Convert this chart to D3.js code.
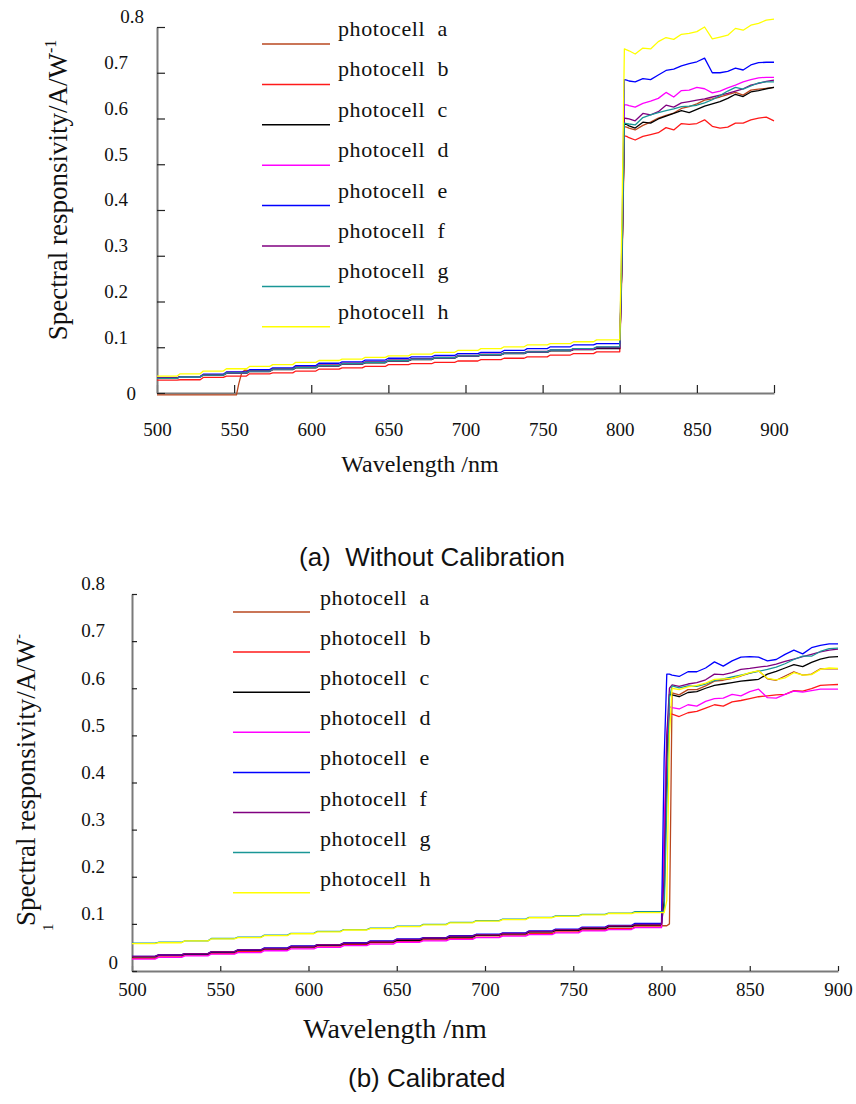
<!DOCTYPE html>
<html><head><meta charset="utf-8">
<script src="https://cdn.jsdelivr.net/npm/d3@7"></script>
<style>body{margin:0;background:#fff}svg{display:block}</style>
</head><body>
<svg id="c" width="856" height="1104"></svg>
<script>
// ---------------- data ----------------
const seriesKeys = ["a","b","c","d","e","f","g","h"];
const seriesColors = ["#b9471f","#ff1a1a","#000000","#ff00ff","#0000ff","#800080","#1a9696","#ffff00"];
const xTicks = [500,550,600,650,700,750,800,850,900];
const yTicks = [0,0.1,0.2,0.3,0.4,0.5,0.6,0.7,0.8];
const yTickLabels = ["0","0.1","0.2","0.3","0.4","0.5","0.6","0.7","0.8"];
const preWl = [500,515,530,545,560,575,590,605,620,635,650,665,680,695,710,725,740,755,770,785];
const postWl = [800,801.5,803,804.5,806,810,815,820,825,830,835,840,845,850,855,860,865,870,875,880,885,890,895,900];

// (a) without calibration
const topOnset_a = [[500,-0.004],[551.5,-0.004],[553,0.02],[555,0.045],[557,0.05]];
const topPre_a = [null,null,null,null,.049,.052,.056,.061,.064,.067,.071,.074,.077,.081,.084,.087,.090,.093,.096,.098];
const topPre_b = [.028,.029,.034,.037,.042,.044,.048,.052,.055,.058,.062,.064,.067,.070,.073,.076,.079,.083,.086,.090];
const topPre_c = [.033,.035,.039,.043,.047,.051,.055,.059,.063,.066,.070,.073,.076,.080,.083,.086,.089,.092,.095,.097];
const topPre_d = [.032,.035,.040,.044,.048,.052,.056,.060,.064,.067,.071,.074,.077,.081,.084,.087,.090,.093,.096,.099];
const topPre_e = [.033,.036,.041,.046,.051,.055,.060,.065,.068,.072,.076,.079,.082,.086,.089,.093,.097,.101,.105,.108];
const topPre_f = [.033,.036,.040,.045,.049,.053,.057,.061,.065,.068,.072,.075,.078,.082,.085,.088,.091,.094,.097,.100];
const topPre_g = [.032,.035,.039,.044,.048,.052,.056,.060,.064,.067,.071,.074,.077,.081,.084,.087,.090,.094,.097,.101];
const topPre_h = [.037,.042,.048,.053,.058,.062,.067,.071,.074,.078,.081,.085,.089,.093,.097,.101,.105,.108,.112,.116];

const topPost_a = [.098,.30,.582,.581,.579,.575,.585,.592,.601,.607,.612,.622,.626,.632,.640,.643,.647,.652,.657,.651,.662,.664,.666,.668];
const topPost_b = [.090,.28,.562,.561,.558,.553,.561,.565,.569,.580,.575,.589,.587,.589,.597,.583,.579,.581,.590,.590,.597,.601,.603,.595];
const topPost_c = [.097,.30,.588,.587,.584,.579,.592,.590,.599,.605,.611,.617,.613,.620,.627,.632,.637,.644,.653,.648,.658,.661,.665,.668];
const topPost_d = [.099,.32,.630,.630,.628,.625,.633,.638,.644,.657,.647,.661,.662,.668,.665,.656,.660,.667,.673,.680,.685,.689,.690,.690];
const topPost_e = [.108,.35,.685,.684,.682,.680,.687,.685,.695,.705,.708,.715,.720,.724,.732,.700,.700,.703,.710,.706,.717,.722,.723,.723];
const topPost_f = [.100,.30,.601,.600,.599,.595,.611,.608,.615,.629,.625,.634,.637,.640,.643,.647,.651,.655,.660,.665,.673,.677,.681,.684];
const topPost_g = [.101,.30,.590,.589,.588,.586,.602,.608,.613,.617,.621,.626,.627,.629,.634,.641,.650,.660,.668,.664,.671,.678,.680,.680];
const topPost_h = [.116,.40,.752,.750,.748,.741,.754,.752,.768,.777,.773,.784,.786,.790,.800,.774,.778,.782,.797,.793,.804,.808,.815,.817];

// (b) calibrated
const botPre_a = [.030,.034,.037,.040,.044,.048,.052,.055,.059,.062,.066,.069,.073,.076,.079,.083,.087,.090,.094,.096];
const botPre_b = [.027,.030,.034,.037,.041,.045,.049,.053,.056,.060,.063,.066,.069,.072,.076,.079,.083,.087,.090,.093];
const botPre_c = [.030,.033,.036,.040,.044,.047,.051,.055,.058,.062,.065,.069,.072,.076,.079,.083,.086,.090,.094,.098];
const botPre_d = [.025,.029,.032,.036,.039,.043,.047,.050,.054,.057,.061,.064,.067,.071,.074,.077,.081,.085,.088,.092];
const botPre_e = [.031,.034,.037,.041,.045,.049,.053,.056,.060,.064,.068,.071,.075,.078,.081,.085,.089,.093,.097,.101];
const botPre_f = [.031,.034,.037,.041,.045,.048,.052,.056,.059,.063,.067,.070,.074,.077,.080,.084,.088,.092,.096,.099];
const botPre_g = [.059,.061,.064,.069,.072,.076,.080,.084,.088,.091,.095,.099,.103,.107,.110,.114,.117,.120,.123,.126];
const botPre_h = [.058,.060,.064,.068,.071,.075,.079,.083,.087,.090,.094,.098,.102,.106,.109,.113,.116,.119,.122,.124];

const botPost_a = [.096,.096,.096,.100,.590,.586,.597,.597,.605,.615,.617,.621,.626,.632,.637,.620,.617,.626,.635,.628,.630,.641,.641,.641];
const botPost_b = [.093,.25,.46,.546,.545,.540,.548,.551,.558,.565,.562,.571,.574,.578,.582,.584,.586,.587,.595,.594,.599,.606,.607,.608];
const botPost_c = [.098,.15,.45,.587,.586,.582,.591,.593,.600,.606,.609,.612,.615,.617,.619,.630,.636,.643,.650,.646,.655,.662,.666,.667];
const botPost_d = [.092,.30,.50,.561,.559,.556,.565,.562,.572,.578,.579,.587,.584,.593,.598,.580,.579,.587,.594,.592,.595,.598,.598,.598];
const botPost_e = [.101,.45,.63,.630,.628,.625,.635,.635,.643,.656,.647,.658,.666,.667,.666,.658,.661,.672,.681,.673,.686,.691,.694,.694];
const botPost_f = [.099,.20,.50,.600,.607,.604,.609,.612,.618,.630,.629,.633,.640,.642,.645,.647,.651,.657,.662,.667,.672,.677,.681,.683];
const botPost_g = [.126,.126,.35,.580,.605,.601,.605,.604,.609,.616,.620,.624,.628,.632,.636,.640,.645,.652,.661,.668,.668,.678,.684,.685];
const botPost_h = [.124,.124,.15,.500,.600,.597,.603,.606,.611,.619,.620,.621,.627,.633,.637,.621,.618,.622,.633,.628,.629,.640,.643,.642];

// ---------------- drawing ----------------
const svg = d3.select("#c");
const SERIF = "'Liberation Serif','Times New Roman',serif";
const SANS = "'Liberation Sans',Arial,sans-serif";

function buildPoints(pre, post, onset){
  const pts = [];
  if (onset) onset.forEach(p => pts.push(p));
  pre.forEach((v,i) => {
    if (v === null) return;
    const next = i < preWl.length-1 ? preWl[i+1] : postWl[0];
    pts.push([preWl[i], v]);
    pts.push([next - 2, v]);
  });
  post.forEach((v,i) => pts.push([postWl[i], v]));
  return pts;
}

function drawChart(cfg){
  const g = svg.append("g");
  const x = d3.scaleLinear().domain([500,900]).range([cfg.x0, cfg.x1]);
  const y = d3.scaleLinear().domain([0,0.8]).range([cfg.y0, cfg.y1]);

  const xa = g.append("g").attr("transform",`translate(0,${cfg.y0})`)
    .call(d3.axisBottom(x).tickValues(xTicks).tickSizeInner(-cfg.tick).tickSizeOuter(0).tickPadding(cfg.xPad).tickFormat(d3.format("d")));
  const ya = g.append("g").attr("transform",`translate(${cfg.x0},0)`)
    .call(d3.axisLeft(y).tickValues(yTicks).tickSizeInner(-cfg.tick).tickSizeOuter(0).tickPadding(cfg.yPad).tickFormat((d,i)=>yTickLabels[i]));
  [xa,ya].forEach(a=>{
    a.select(".domain").attr("stroke","#7a7a7a").attr("stroke-width",2);
    a.selectAll(".tick line").attr("stroke","#222").attr("stroke-width",1.2);
    a.selectAll("text").attr("font-family",SERIF).attr("font-size",19).attr("fill","#111");
  });
  ya.selectAll("text").attr("dy","-0.22em");
  ya.selectAll(".tick").filter(d=>d===0).select("text").attr("x",cfg.zeroX).attr("dy",cfg.zeroDy);
  if (cfg.topX !== undefined) ya.selectAll(".tick").filter(d=>d===0.8).select("text").attr("x",cfg.topX);

  const line = d3.line().x(d=>x(d[0])).y(d=>y(d[1]));
  seriesKeys.forEach((k,i)=>{
    const pts = buildPoints(cfg.pre[i], cfg.post[i], cfg.onset ? cfg.onset[i] : null);
    g.append("path").attr("d",line(pts)).attr("fill","none")
      .attr("stroke",seriesColors[i]).attr("stroke-width",1.3).attr("stroke-linejoin","round");
  });

  seriesKeys.forEach((k,i)=>{
    const ly = cfg.ly0 + i*cfg.lgap;
    g.append("line").attr("x1",cfg.lx1).attr("x2",cfg.lx2).attr("y1",ly).attr("y2",ly)
      .attr("stroke",seriesColors[i]).attr("stroke-width",1.5);
    g.append("text").attr("x",cfg.tx).attr("y",ly-cfg.tOff)
      .attr("font-family",SERIF).attr("font-size",22).attr("letter-spacing","0.6px")
      .style("white-space","pre").attr("fill","#111").text("photocell  "+k);
  });

  g.append("text").attr("x",cfg.xtX).attr("y",cfg.xtY).attr("text-anchor","middle")
    .attr("font-family",SERIF).attr("font-size",cfg.xtSize).attr("fill","#111").text("Wavelength /nm");

  g.append("text").attr("x",cfg.capX).attr("y",cfg.capY).attr("font-family",SANS)
    .attr("font-size",26).style("white-space","pre").attr("fill","#111").text(cfg.caption);
  return g;
}

const topG = drawChart({
  x0:157, x1:774, y0:393, y1:27, tick:8, xPad:30, yPad:29, zeroX:-21, zeroDy:"0.35em", topX:-13,
  pre:[topPre_a,topPre_b,topPre_c,topPre_d,topPre_e,topPre_f,topPre_g,topPre_h],
  post:[topPost_a,topPost_b,topPost_c,topPost_d,topPost_e,topPost_f,topPost_g,topPost_h],
  onset:[topOnset_a,null,null,null,null,null,null,null],
  ly0:44, lgap:40.4, lx1:262, lx2:330, tx:338, tOff:8,
  xtX:420, xtY:472, xtSize:24,
  capX:299, capY:566, caption:"(a)  Without Calibration"
});
topG.append("text").attr("transform","translate(67,190) rotate(-90)").attr("text-anchor","middle")
  .attr("font-family",SERIF).attr("font-size",27).attr("fill","#111")
  .call(t=>{t.append("tspan").text("Spectral responsivity/A/W");
            t.append("tspan").attr("font-size",16).attr("dy",-11).text("-1");});

const botG = drawChart({
  x0:132, x1:838, y0:971, y1:594, tick:5, xPad:12, yPad:27, zeroX:-14, zeroDy:"-0.12em",
  pre:[botPre_a,botPre_b,botPre_c,botPre_d,botPre_e,botPre_f,botPre_g,botPre_h],
  post:[botPost_a,botPost_b,botPost_c,botPost_d,botPost_e,botPost_f,botPost_g,botPost_h],
  onset:null,
  ly0:612, lgap:40.1, lx1:233, lx2:310, tx:320, tOff:7,
  xtX:395, xtY:1038, xtSize:28,
  capX:348, capY:1087, caption:"(b) Calibrated"
});
botG.append("text").attr("transform","translate(35,780) rotate(-90)").attr("text-anchor","middle")
  .attr("font-family",SERIF).attr("font-size",27).attr("fill","#111")
  .call(t=>{t.append("tspan").text("Spectral responsivity/A/W");
            t.append("tspan").attr("font-size",14).attr("dy",-12).text("-");});
botG.append("text").attr("transform","translate(53,931) rotate(-90)")
  .attr("font-family",SERIF).attr("font-size",15).attr("fill","#111").text("1");
</script>
</body></html>
